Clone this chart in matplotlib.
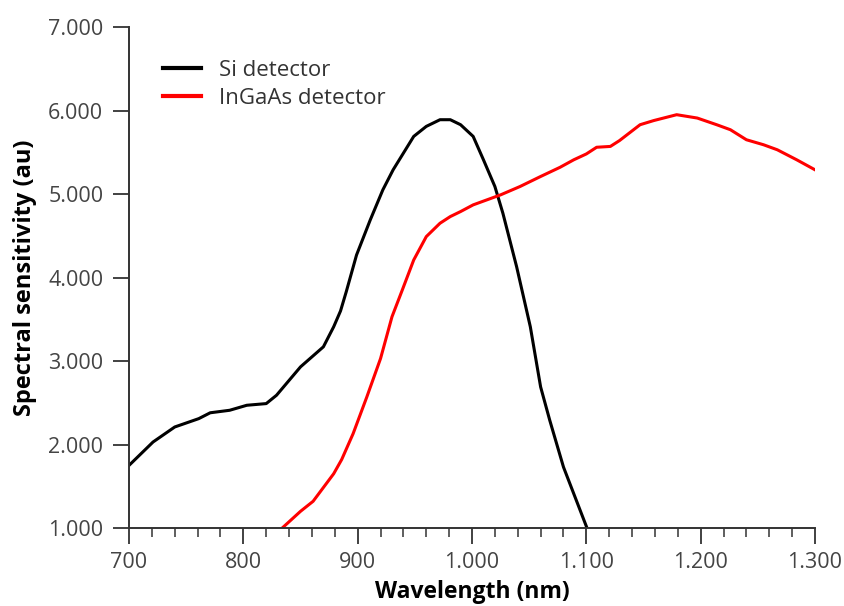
import matplotlib
matplotlib.use("Agg")
import matplotlib.pyplot as plt
from matplotlib.ticker import MultipleLocator, FuncFormatter

# Si detector response
si_wl = [700, 721, 740, 761, 771, 788, 803, 820, 829, 850, 870, 879, 885, 890, 899,
         911, 922, 931, 949, 960, 972, 981, 990, 1001, 1010, 1020, 1027, 1039, 1051,
         1060, 1068, 1080, 1100]
si_val = [1.75, 2.03, 2.21, 2.31, 2.38, 2.41, 2.47, 2.49, 2.59, 2.93, 3.17, 3.41, 3.60,
          3.83, 4.27, 4.69, 5.05, 5.29, 5.69, 5.81, 5.89, 5.89, 5.83, 5.69, 5.41, 5.09,
          4.77, 4.13, 3.41, 2.69, 2.29, 1.73, 1.02]

# InGaAs detector response
ingaas_wl = [834, 850, 861, 879, 886, 896, 908, 920, 930, 939, 949, 960, 972,
             981, 990, 1001, 1013, 1025, 1042, 1060, 1077, 1089, 1100, 1109, 1121, 1129,
             1147, 1159, 1179, 1197, 1214, 1226, 1240, 1255, 1267, 1284, 1300]
ingaas_val = [1.0, 1.20, 1.32, 1.65, 1.82, 2.13, 2.57, 3.03, 3.53, 3.85, 4.21,
              4.49, 4.65, 4.73, 4.79, 4.87, 4.93, 4.99, 5.09, 5.21, 5.32, 5.41, 5.48, 5.56,
              5.57, 5.64, 5.83, 5.88, 5.95, 5.91, 5.83, 5.77, 5.65, 5.59, 5.53, 5.41, 5.29]

labels = ["Si detector", "InGaAs detector"]
colors = ["#000000", "#ff0000"]

plt.rcParams['font.family'] = ['Open Sans', 'DejaVu Sans']

fig = plt.figure(figsize=(8.45, 6.06), dpi=100)
ax = fig.add_axes([0.1527, 0.1287, 0.8118, 0.8267])

ax.plot(si_wl, si_val, color=colors[0], lw=2.2, label=labels[0], solid_joinstyle='round')
ax.plot(ingaas_wl, ingaas_val, color=colors[1], lw=2.2, label=labels[1], solid_joinstyle='round')

ax.set_xlim(700, 1300)
ax.set_ylim(1, 7)
ax.xaxis.set_major_locator(MultipleLocator(100))
ax.xaxis.set_minor_locator(MultipleLocator(20))
ax.yaxis.set_major_locator(MultipleLocator(1))


def thousands(v, pos):
    return f"{int(round(v)):,}".replace(",", ".")


ax.xaxis.set_major_formatter(FuncFormatter(thousands))
ax.yaxis.set_major_formatter(FuncFormatter(lambda v, p: f"{v:.3f}"))

for side in ("top", "right"):
    ax.spines[side].set_visible(False)
for side in ("left", "bottom"):
    ax.spines[side].set_color("#333333")
    ax.spines[side].set_linewidth(1.4)

ax.tick_params(axis='both', which='major', length=11.5, width=1.3, color="#333333",
               labelsize=15.5, labelcolor="#444444")
ax.tick_params(axis='x', which='major', pad=6)
ax.tick_params(axis='y', which='major', pad=7)
ax.tick_params(axis='x', which='minor', length=6.5, width=1.1, color="#333333")

ax.set_xlabel("Wavelength (nm)", fontsize=16.5, fontweight='bold', labelpad=5)
ax.set_ylabel("Spectral sensitivity (au)", fontsize=17, fontweight='bold', labelpad=8)

leg = ax.legend(loc='upper left', bbox_to_anchor=(0.05, 0.935), frameon=False,
                fontsize=16, handlelength=1.7, handletextpad=0.8, labelspacing=0.33,
                borderaxespad=0, borderpad=0)
for line in leg.get_lines():
    line.set_linewidth(3)
for t in leg.get_texts():
    t.set_color("#333333")

fig.savefig("out.png", dpi=100)
